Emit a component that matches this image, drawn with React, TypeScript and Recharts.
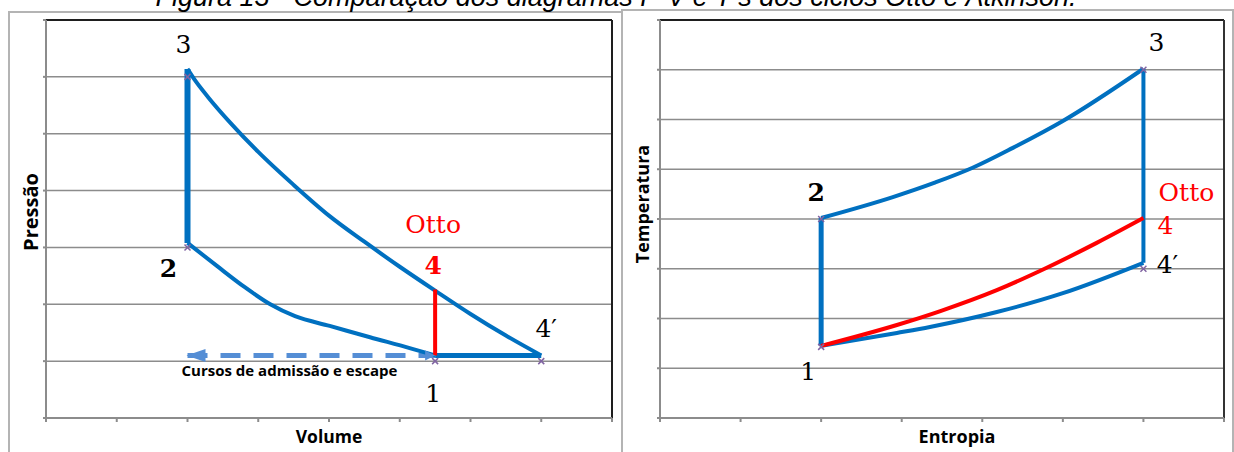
import React from 'react';
import {
  ComposedChart,
  Line,
  Scatter,
  XAxis,
  YAxis,
  CartesianGrid,
  ReferenceLine,
  ReferenceDot,
} from 'recharts';

const BLUE = '#0070c0';
const RED = '#ff0000';
const STROKE_BLUE = '#558ed5';
const MARK = '#8064a2';
const GRID = '#8c8c8c';
const FRAME = '#b4b4b4';

// ---- P-V diagram (volume x pressure, arbitrary units) ----
const pvVolumeTicks = [0, 1, 2, 3, 4, 5, 6, 7, 8];
const pvPressureTicks = [0, 1, 2, 3, 4, 5, 6, 7];

// 2 -> 3: combustion at constant volume
const pvCombustion = [{ v: 2, p: 3.08 }, { v: 2, p: 6.14 }];
// 3 -> 4': expansion
const pvExpansion = [
  { v: 2.0, p: 6.14 }, { v: 2.1, p: 5.95 }, { v: 2.3, p: 5.63 }, { v: 2.6, p: 5.2 },
  { v: 3.0, p: 4.68 }, { v: 3.5, p: 4.1 }, { v: 4.0, p: 3.56 }, { v: 4.5, p: 3.1 },
  { v: 5.0, p: 2.66 }, { v: 5.5, p: 2.24 }, { v: 6.0, p: 1.83 }, { v: 6.5, p: 1.45 },
  { v: 7.0, p: 1.1 },
];
// 1 -> 2: compression
const pvCompression = [
  { v: 2.0, p: 3.08 }, { v: 2.42, p: 2.67 }, { v: 2.81, p: 2.3 }, { v: 3.17, p: 2.0 },
  { v: 3.52, p: 1.79 }, { v: 4.01, p: 1.62 }, { v: 4.58, p: 1.42 }, { v: 5.14, p: 1.23 },
  { v: 5.5, p: 1.1 },
];
// 4' -> 1: Atkinson exhaust at constant pressure
const pvAtkinson = [{ v: 5.5, p: 1.1 }, { v: 7.0, p: 1.1 }];
// 4 -> 1: Otto blowdown
const pvOtto = [{ v: 5.5, p: 1.1 }, { v: 5.5, p: 2.26 }];
// intake / exhaust strokes
const pvStrokes = [{ v: 2.0, p: 1.1 }, { v: 5.5, p: 1.1 }];
// state points 3, 2, 1, 4'
const pvStates = [{ v: 2, p: 6 }, { v: 2, p: 3 }, { v: 5.5, p: 1 }, { v: 7, p: 1 }];

// ---- T-s diagram (entropy x temperature, arbitrary units) ----
const tsEntropyTicks = [0, 1, 2, 3, 4, 5, 6, 7];
const tsTempTicks = [0, 1, 2, 3, 4, 5, 6, 7, 8];

// 1 -> 2: isentropic compression
const tsCompression = [{ s: 2, t: 1.45 }, { s: 2, t: 4.02 }];
// 2 -> 3: heat addition
const tsHeat = [
  { s: 2.0, t: 4.02 }, { s: 2.89, t: 4.44 }, { s: 3.41, t: 4.73 }, { s: 3.88, t: 5.03 },
  { s: 4.38, t: 5.43 }, { s: 5.0, t: 5.97 }, { s: 6.0, t: 7.02 },
];
// 3 -> 4': isentropic expansion
const tsExpansion = [{ s: 6, t: 7.02 }, { s: 6, t: 3.12 }];
// 4' -> 1: Atkinson heat rejection
const tsAtkinsonReject = [
  { s: 2.0, t: 1.45 }, { s: 2.94, t: 1.71 }, { s: 3.35, t: 1.83 }, { s: 4.18, t: 2.13 },
  { s: 5.0, t: 2.51 }, { s: 6.0, t: 3.12 },
];
// 4 -> 1: Otto heat rejection
const tsOttoReject = [
  { s: 2.0, t: 1.45 }, { s: 2.94, t: 1.87 }, { s: 3.48, t: 2.15 }, { s: 4.18, t: 2.57 },
  { s: 4.8, t: 3.02 }, { s: 5.42, t: 3.52 }, { s: 6.0, t: 4.02 },
];
// state points 2, 1, 3, 4'
const tsStates = [{ s: 2, t: 4 }, { s: 2, t: 1.43 }, { s: 6, t: 7 }, { s: 6, t: 3 }];

const CAPTION = 'Figura 13 - Comparação dos diagramas P-V e T-s dos ciclos Otto e Atkinson.';

// axes keep their tick marks but carry no tick labels
const NoTick = () => null;

const Cross = ({ cx, cy }: any) => (
  <path
    d={`M${cx - 3},${cy - 3}L${cx + 3},${cy + 3}M${cx - 3},${cy + 3}L${cx + 3},${cy - 3}`}
    stroke={MARK}
    strokeWidth={1.5}
  />
);

// arrow heads on both ends of the dashed stroke line
const StrokeHead = ({ cx, cy, index }: any) =>
  index === 0 ? (
    <path key="h0" d={`M${cx - 1},${cy}L${cx + 18},${cy - 6.5}L${cx + 18},${cy + 6.5}Z`} fill={STROKE_BLUE} />
  ) : (
    <path key="h1" d={`M${cx},${cy}L${cx - 10},${cy - 5}L${cx - 10},${cy + 5}Z`} fill={STROKE_BLUE} />
  );

const tag =
  (text: string, dx: number, dy: number, fill = '#000', bold = false) =>
  ({ viewBox }: any) => (
    <text
      x={viewBox.x + dx}
      y={viewBox.y + dy}
      textAnchor="middle"
      fontFamily="'DejaVu Serif', serif"
      fontSize={25}
      fontWeight={bold ? 700 : 400}
      fill={fill}
    >
      {text}
    </text>
  );

const axisTitle =
  (text: string, dx: number, dy: number, size: number, vertical = false) =>
  ({ viewBox }: any) => {
    const x = vertical ? viewBox.x + dx : viewBox.x + viewBox.width / 2 + dx;
    const y = vertical ? viewBox.y + viewBox.height / 2 + dy : viewBox.y + dy;
    return (
      <text
        x={x}
        y={y}
        textAnchor="middle"
        fontFamily="'Open Sans', sans-serif"
        fontWeight={700}
        fontSize={size}
        fill="#000"
        transform={vertical ? `rotate(-90 ${x} ${y})` : undefined}
      >
        {text}
      </text>
    );
  };

const PVChart = () => (
  <ComposedChart width={620} height={452} margin={{ top: 20, right: 8, bottom: 0, left: 42 }}>
    <CartesianGrid vertical={false} horizontalValues={pvPressureTicks} stroke={GRID} strokeWidth={1.5} />
    <XAxis
      type="number"
      dataKey="v"
      domain={[0, 8]}
      ticks={pvVolumeTicks}
      tick={NoTick}
      tickSize={4}
      height={34}
      stroke={GRID}
      strokeWidth={2}
      label={{ content: axisTitle('Volume', 0, 25, 17.5) }}
    />
    <YAxis
      type="number"
      domain={[0, 7]}
      ticks={pvPressureTicks}
      tick={NoTick}
      tickSize={3}
      width={4}
      stroke={GRID}
      strokeWidth={2}
      label={{ content: axisTitle('Pressão', -4, -7, 20, true) }}
    />
    <ReferenceLine y={7} stroke="#1e1e1e" strokeWidth={2} />
    <ReferenceLine x={8} stroke="#1e1e1e" strokeWidth={2} />
    <Scatter data={pvStates} dataKey="p" shape={Cross} isAnimationActive={false} />
    <Line data={pvStrokes} dataKey="p" type="linear" stroke={STROKE_BLUE} strokeWidth={5}
      strokeDasharray="20 13" dot={StrokeHead} activeDot={false} isAnimationActive={false} />
    <Line data={pvCompression} dataKey="p" type="monotone" stroke={BLUE} strokeWidth={4}
      dot={false} activeDot={false} isAnimationActive={false} />
    <Line data={pvExpansion} dataKey="p" type="monotone" stroke={BLUE} strokeWidth={4}
      dot={false} activeDot={false} isAnimationActive={false} />
    <Line data={pvCombustion} dataKey="p" type="linear" stroke={BLUE} strokeWidth={6}
      dot={false} activeDot={false} isAnimationActive={false} />
    <Line data={pvAtkinson} dataKey="p" type="linear" stroke={BLUE} strokeWidth={5}
      dot={false} activeDot={false} isAnimationActive={false} />
    <Line data={pvOtto} dataKey="p" type="linear" stroke={RED} strokeWidth={4}
      dot={false} activeDot={false} isAnimationActive={false} />
    <ReferenceDot x={2} y={6} r={0} label={{ content: tag('3', -4, -24) }} />
    <ReferenceDot x={2} y={3} r={0} label={{ content: tag('2', -19, 30, '#000', true) }} />
    <ReferenceDot x={5.5} y={2.26} r={0} label={{ content: tag('Otto', -2, -57, RED) }} />
    <ReferenceDot x={5.5} y={2.26} r={0} label={{ content: tag('4', -2, -16, RED, true) }} />
    <ReferenceDot x={7} y={1} r={0} label={{ content: tag('4′', 5, -24) }} />
    <ReferenceDot x={5.5} y={1} r={0} label={{ content: tag('1', -2, 41) }} />
    <ReferenceDot
      x={2}
      y={1.1}
      r={0}
      label={{
        content: ({ viewBox }: any) => (
          <text x={viewBox.x - 6} y={viewBox.y + 21} fontFamily="'Open Sans', sans-serif"
            fontWeight={700} fontSize={15} fill="#000">
            Cursos de admissão e escape
          </text>
        ),
      }}
    />
  </ComposedChart>
);

const TSChart = () => (
  <ComposedChart width={614} height={452} margin={{ top: 20, right: 10, bottom: 0, left: 36 }}>
    <CartesianGrid vertical={false} horizontalValues={tsTempTicks} stroke={GRID} strokeWidth={1.5} />
    <XAxis
      type="number"
      dataKey="s"
      domain={[0, 7]}
      ticks={tsEntropyTicks}
      tick={NoTick}
      tickSize={4}
      height={34}
      stroke={GRID}
      strokeWidth={2}
      label={{ content: axisTitle('Entropia', 15, 25, 18) }}
    />
    <YAxis
      type="number"
      domain={[0, 8]}
      ticks={tsTempTicks}
      tick={NoTick}
      tickSize={3}
      width={4}
      stroke={GRID}
      strokeWidth={2}
      label={{ content: axisTitle('Temperatura', -7, -15, 18, true) }}
    />
    <ReferenceLine y={8} stroke="#1e1e1e" strokeWidth={2} />
    <ReferenceLine x={7} stroke="#333" strokeWidth={2} />
    <Scatter data={tsStates} dataKey="t" shape={Cross} isAnimationActive={false} />
    <Line data={tsCompression} dataKey="t" type="linear" stroke={BLUE} strokeWidth={5}
      dot={false} activeDot={false} isAnimationActive={false} />
    <Line data={tsHeat} dataKey="t" type="monotone" stroke={BLUE} strokeWidth={4}
      dot={false} activeDot={false} isAnimationActive={false} />
    <Line data={tsExpansion} dataKey="t" type="linear" stroke={BLUE} strokeWidth={4}
      dot={false} activeDot={false} isAnimationActive={false} />
    <Line data={tsAtkinsonReject} dataKey="t" type="monotone" stroke={BLUE} strokeWidth={4}
      dot={false} activeDot={false} isAnimationActive={false} />
    <Line data={tsOttoReject} dataKey="t" type="monotone" stroke={RED} strokeWidth={4}
      dot={false} activeDot={false} isAnimationActive={false} />
    <ReferenceDot x={6} y={7} r={0} label={{ content: tag('3', 13, -19) }} />
    <ReferenceDot x={2} y={4} r={0} label={{ content: tag('2', -5, -18, '#000', true) }} />
    <ReferenceDot x={2} y={1.43} r={0} label={{ content: tag('1', -13, 33) }} />
    <ReferenceDot x={6} y={4} r={0} label={{ content: tag('Otto', 43, -18, RED) }} />
    <ReferenceDot x={6} y={4} r={0} label={{ content: tag('4', 22, 15, RED) }} />
    <ReferenceDot x={6} y={3} r={0} label={{ content: tag('4′', 24, 4) }} />
  </ComposedChart>
);

export default function App() {
  return (
    <div style={{ position: 'absolute', left: 0, top: 0, width: 1234, height: 452, overflow: 'hidden', background: '#fff' }}>
      <div style={{ position: 'absolute', left: 8, top: 11, width: 612, height: 460, borderLeft: `2px solid ${FRAME}`, borderTop: `2px solid ${FRAME}` }} />
      <div style={{ position: 'absolute', left: 621, top: 9, width: 609, height: 460, border: `2px solid ${FRAME}` }} />
      <svg width={1234} height={20} style={{ position: 'absolute', left: 0, top: 0 }}>
        <text x={616} y={6} textAnchor="middle" fontFamily="'Liberation Sans', Arial, sans-serif"
          fontStyle="italic" fontSize={27} fill="#000">
          {CAPTION}
        </text>
      </svg>
      <div style={{ position: 'absolute', left: 0, top: 0 }}>
        <PVChart />
      </div>
      <div style={{ position: 'absolute', left: 620, top: 0 }}>
        <TSChart />
      </div>
    </div>
  );
}
